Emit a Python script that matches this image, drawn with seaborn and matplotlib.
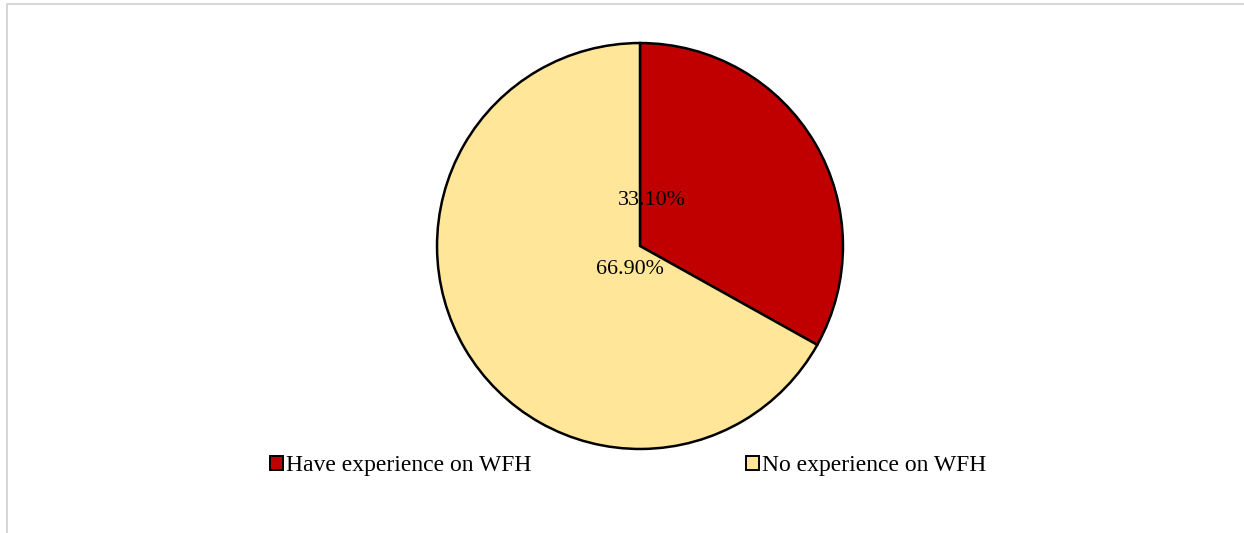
import matplotlib
matplotlib.use("Agg")
import matplotlib.pyplot as plt
import matplotlib.patches as mpatches
import seaborn as sns

categories = ["Have experience on WFH", "No experience on WFH"]
values = [33.10, 66.90]
value_labels = ["33.10%", "66.90%"]
colors = ["#C00000", "#FFE699"]

sns.set_theme(style="white")
plt.rcParams["font.family"] = ["Liberation Serif", "DejaVu Serif"]
plt.rcParams["text.color"] = "black"

W, H = 1244, 533
fig = plt.figure(figsize=(W / 100, H / 100), dpi=100)
fig.patch.set_facecolor("white")

# chart frame (light gray)
frame = mpatches.Rectangle((7 / W, -0.2), 1.2, 1.0 - 4 / H + 0.2, transform=fig.transFigure,
                           fill=False, edgecolor="#d0d0d0", lw=1.2, clip_on=False)
fig.add_artist(frame)

cx, cy, r = 640, 246, 205
ax = fig.add_axes([(cx - r) / W, (H - cy - r) / H, 2 * r / W, 2 * r / H])
wedges, texts = ax.pie(values, colors=colors, startangle=90, counterclock=False,
                       radius=1, wedgeprops=dict(edgecolor="black", linewidth=1.8),
                       labels=value_labels, labeldistance=0.3,
                       textprops=dict(fontsize=15.8, color="black"))
label_pos = [(0.06, 0.225), (-0.05, -0.115)]
for t, p in zip(texts, label_pos):
    t.set_position(p)
    t.set_ha("center")
    t.set_va("center")
ax.set_xlim(-1.01, 1.01)
ax.set_ylim(-1.01, 1.01)
ax.set_aspect("equal")
ax.axis("off")

handles = [mpatches.Patch(facecolor=c, edgecolor="black", lw=1.4) for c in colors]
fig.legend(handles, categories, loc="center", bbox_to_anchor=(628 / W, 1 - 466 / H),
           ncol=2, frameon=False, fontsize=17, handlelength=0.55, handleheight=0.55,
           handletextpad=0.12, columnspacing=9.1, borderpad=0, labelcolor="black")

fig.savefig("out.png", dpi=100)
